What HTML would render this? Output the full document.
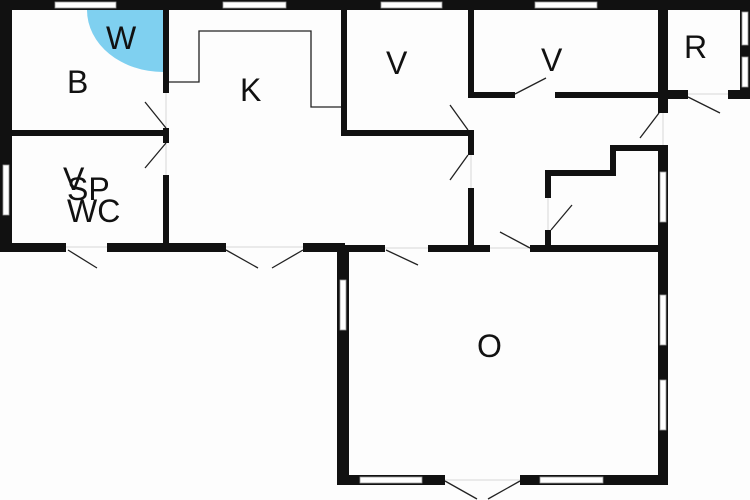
<!DOCTYPE html>
<html><head><style>body{margin:0;background:#fff}svg{display:block}text{font-family:"Liberation Sans",Arial,sans-serif;fill:#111;font-size:32px}</style></head><body>
<svg width="750" height="500" viewBox="0 0 750 500">
<rect width="750" height="500" fill="#fdfdfd"/>
<path d="M163 10L87 10A76 62 0 0 0 163 72Z" fill="#7fd0f0"/>
<g fill="#111">
<rect x="0" y="0" width="750" height="10"/>
<rect x="0" y="0" width="12" height="252"/>
<rect x="0" y="243" width="66" height="9"/>
<rect x="107" y="243" width="119" height="9"/>
<rect x="303" y="243" width="42" height="9"/>
<rect x="12" y="130" width="155" height="6"/>
<rect x="163" y="10" width="6" height="83"/>
<rect x="163" y="128" width="6" height="15"/>
<rect x="163" y="175" width="6" height="70"/>
<rect x="341" y="10" width="6" height="126"/>
<rect x="341" y="130" width="133" height="6"/>
<rect x="468" y="130" width="6" height="25"/>
<rect x="468" y="188" width="6" height="60"/>
<rect x="468" y="10" width="6" height="88"/>
<rect x="468" y="92" width="47" height="6"/>
<rect x="555" y="92" width="105" height="6"/>
<rect x="658" y="10" width="10" height="103"/>
<rect x="658" y="145" width="10" height="340"/>
<rect x="668" y="90" width="20" height="9"/>
<rect x="728" y="90" width="22" height="9"/>
<rect x="740" y="0" width="10" height="99"/>
<rect x="545" y="170" width="6" height="28"/>
<rect x="545" y="230" width="6" height="20"/>
<rect x="545" y="170" width="71" height="6"/>
<rect x="610" y="145" width="6" height="31"/>
<rect x="610" y="145" width="50" height="6"/>
<rect x="337" y="245" width="48" height="7"/>
<rect x="428" y="245" width="62" height="7"/>
<rect x="530" y="245" width="130" height="7"/>
<rect x="337" y="245" width="12" height="240"/>
<rect x="337" y="475" width="108" height="10"/>
<rect x="520" y="475" width="148" height="10"/>
</g>
<g fill="#fff" stroke="#999" stroke-width="0.8">
<rect x="55" y="2" width="61" height="6"/><rect x="223" y="2" width="63" height="6"/>
<rect x="381" y="2" width="61" height="6"/><rect x="535" y="2" width="62" height="6"/>
<rect x="3" y="165" width="6" height="50"/>
<rect x="742" y="12" width="6" height="33"/><rect x="742" y="57" width="6" height="30"/>
<rect x="660" y="172" width="6" height="50"/>
<rect x="340" y="280" width="6" height="50"/>
<rect x="660" y="295" width="6" height="50"/><rect x="660" y="380" width="6" height="50"/>
<rect x="360" y="477" width="62" height="6"/><rect x="540" y="477" width="63" height="6"/>
</g>
<g stroke="#ccc" stroke-width="0.8" fill="none">
<path d="M66 247H107M226 247H303M385 248H428M490 248H530M688 94H728M445 480H520M166 93V128M166 143V175M471 155V188M548 198V230M663 113V145"/>
</g>
<g stroke="#222" stroke-width="1.3" fill="none">
<path d="M169 82H199V31H311V107H341"/>
<path d="M145 102L166 128M166 143L145 168"/>
<path d="M68 250L97 268M226 250L258 268M303 250L272 268"/>
<path d="M450 105L468 130M468 155L450 180"/>
<path d="M515 94L546 78M659 113L640 138M688 97L720 113"/>
<path d="M551 230L572 205M500 232L530 248M386 250L418 265"/>
<path d="M445 481L477 499M520 481L488 499"/>
</g>
<text x="106" y="49">W</text>
<text x="67" y="93">B</text>
<text x="240" y="101">K</text>
<text x="386" y="74">V</text>
<text x="541" y="71">V</text>
<text x="684" y="58">R</text>
<text x="477" y="357">O</text>
<text x="63" y="190">V</text>
<text x="67" y="200">SP</text>
<text x="67" y="222">WC</text>
</svg>
</body></html>
